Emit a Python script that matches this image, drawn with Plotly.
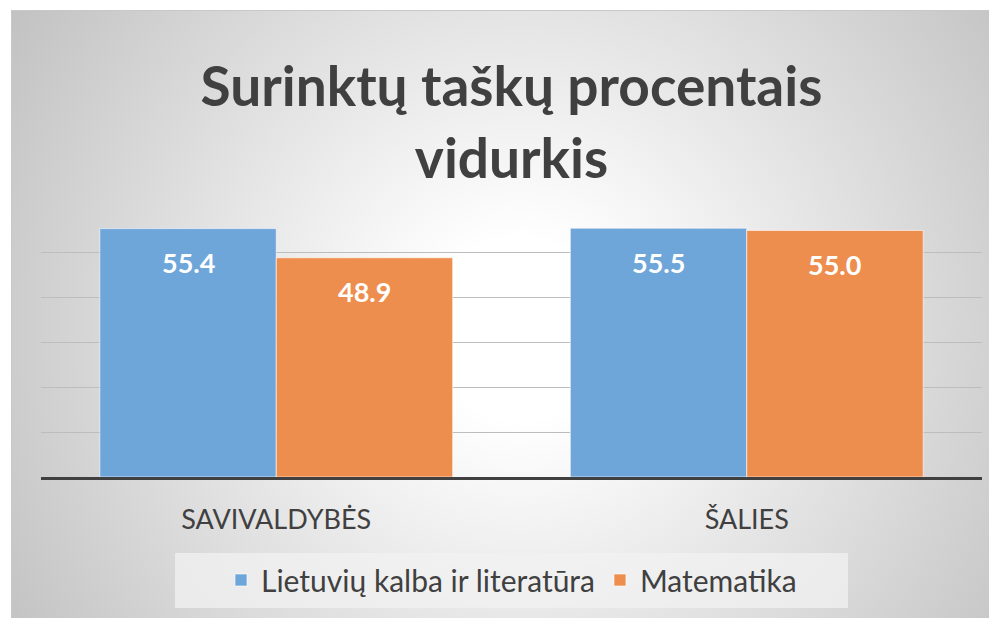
import base64
import plotly.graph_objects as go

# chart data
categories = ["SAVIVALDYBĖS", "ŠALIES"]
lietuviu_kalba = [55.4, 55.5]
matematika = [48.9, 55.0]
series_names = ["Lietuvių kalba ir literatūra", "Matematika"]
title_text = "Surinktų taškų procentais<br>vidurkis"

BLUE = "#6FA6DA"
ORANGE = "#EE8E4E"
TEXT_GREY = "#404040"
FONT = "Lato, 'Open Sans', sans-serif"

# page body has an 8px margin, so the figure is 8px smaller than the window
W, H = 989, 610
M = dict(l=33, r=15, t=200, b=141)
plot_w = W - M["l"] - M["r"]
plot_h = H - M["t"] - M["b"]

# background: frame with radial grey gradient + legend panel (office-style)
frame_x, frame_y = 3, 2
frame_w, frame_h = W - frame_x, H - frame_y
svg = f"""<svg xmlns="http://www.w3.org/2000/svg" width="{frame_w}" height="{frame_h}" viewBox="0 0 {frame_w} {frame_h}" preserveAspectRatio="none">
<defs><radialGradient id="g" gradientUnits="userSpaceOnUse" cx="510" cy="320" r="600">
<stop offset="0" stop-color="#ffffff"/><stop offset="0.15" stop-color="#ffffff"/><stop offset="1" stop-color="#c2c2c2"/>
</radialGradient></defs>
<rect x="0.5" y="0.5" width="{frame_w}" height="{frame_h}" fill="url(#g)" stroke="#c8c8c8" stroke-width="1"/>
<rect x="164" y="543" width="673" height="55" fill="#f2f2f2" fill-opacity="0.75"/>
</svg>"""
bg_src = "data:image/svg+xml;base64," + base64.b64encode(svg.encode("utf-8")).decode("ascii")

fig = go.Figure()
fig.add_trace(go.Bar(x=categories, y=lietuviu_kalba, name=series_names[0],
                     marker=dict(color=BLUE, line=dict(color="rgba(255,255,255,0.6)", width=1))))
fig.add_trace(go.Bar(x=categories, y=matematika, name=series_names[1],
                     marker=dict(color=ORANGE, line=dict(color="rgba(255,255,255,0.6)", width=1))))

# value labels, placed a bit below the top of each bar
half_bar = plot_w / len(categories) * 0.75 / 4
for values, shift in [(lietuviu_kalba, -half_bar), (matematika, half_bar)]:
    for cat, v in zip(categories, values):
        fig.add_annotation(x=cat, y=v, text=f"{v:.1f}", showarrow=False,
                           xshift=shift, yshift=-34,
                           font=dict(family=FONT, size=27, color="white", weight="bold"))

fig.update_layout(
    width=W, height=H, autosize=False,
    margin=M,
    paper_bgcolor="white",
    plot_bgcolor="rgba(0,0,0,0)",
    title=dict(text=title_text, x=0.5, xref="paper", xanchor="center",
               y=1 - 98 / H, yref="container", yanchor="middle",
               font=dict(family=FONT, size=55, color=TEXT_GREY, weight="bold")),
    barmode="group", bargap=0.25, bargroupgap=0.0,
    showlegend=True,
    legend=dict(orientation="h", x=0.5, xanchor="center",
                y=(469 - 572) / plot_h, yanchor="middle",
                bgcolor="rgba(0,0,0,0)",
                font=dict(family=FONT, size=30, color=TEXT_GREY)),
    images=[dict(source=bg_src, xref="paper", yref="paper",
                 x=(frame_x - M["l"]) / plot_w, y=(H - M["b"] - frame_y) / plot_h,
                 sizex=frame_w / plot_w, sizey=frame_h / plot_h,
                 xanchor="left", yanchor="top", sizing="stretch", layer="below")],
)
fig.update_xaxes(showline=True, linecolor=TEXT_GREY, linewidth=3,
                 showgrid=False, ticks="", ticklabelstandoff=17,
                 tickfont=dict(family=FONT, size=27, color=TEXT_GREY))
fig.update_yaxes(range=[0, 60], dtick=10, showticklabels=False,
                 showgrid=True, gridcolor="#bdbdbd", gridwidth=1,
                 zeroline=False, showline=False)

fig.write_html("out.html")
